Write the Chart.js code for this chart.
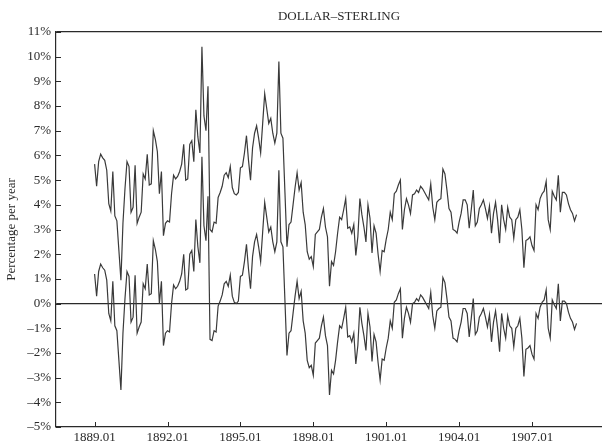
<!DOCTYPE html>
<html>
<head>
<meta charset="utf-8">
<script src="https://cdn.jsdelivr.net/npm/chart.js@4.4.0/dist/chart.umd.min.js"></script>
<style>
  html, body { margin: 0; padding: 0; background: #fff; }
</style>
</head>
<body>
<canvas id="chart" width="602" height="447"></canvas>
<script>
// monthly series, starting 1889.01
var upper = [
  5.65, 4.75, 5.75, 6.05, 5.9, 5.8, 5.4, 4.05, 3.75, 5.35,
  3.55, 3.35, 2.15, 0.95, 3.25, 4.65, 5.75, 5.55, 3.7, 3.9,
  5.6, 3.25, 3.5, 3.7, 5.25, 5.05, 6.05, 4.8, 4.85, 7.0,
  6.65, 6.15, 4.45, 5.35, 2.75, 3.25, 3.35, 3.3, 4.45, 5.2,
  5.05, 5.15, 5.35, 5.65, 6.45, 5.0, 5.05, 6.45, 6.6, 5.75,
  7.85, 6.75, 6.1, 10.4, 7.6, 7.0, 8.8, 3.0, 2.9, 3.3,
  3.25, 4.3, 4.5, 4.75, 5.2, 5.3, 5.1, 5.55, 4.7, 4.45,
  4.4, 4.5, 5.5, 5.55, 6.1, 6.8, 5.8, 5.0, 6.3, 6.9,
  7.2, 6.7, 6.1, 7.3, 8.5, 7.9, 7.3, 7.5, 6.9, 6.5,
  6.9, 9.8, 6.9, 6.7, 4.5, 2.3, 3.2, 3.3, 4.0, 4.7,
  5.3, 4.6, 4.9, 3.7, 3.2, 2.1, 1.8, 1.9, 1.5, 2.8,
  2.9, 3.0, 3.5, 3.85, 3.1, 2.7, 0.7, 1.7, 1.55, 2.1,
  2.85, 3.5, 3.4, 3.8, 4.25, 3.05, 3.1, 2.85, 3.2, 1.95,
  2.7, 4.25, 3.6, 3.1, 2.5, 4.0, 3.45, 2.05, 3.15, 2.85,
  2.0, 1.3, 2.15, 2.1, 2.6, 3.0, 3.7, 3.4, 4.45, 4.55,
  4.8, 5.0, 3.0, 3.8, 4.25, 4.0, 3.65, 4.4, 4.45, 4.6,
  4.5, 4.75, 4.65, 4.5, 4.35, 4.2, 4.85, 3.9, 3.4, 4.1,
  4.2, 4.25, 5.45, 5.25, 4.6, 3.85, 3.7, 3.0, 2.95, 2.85,
  3.3, 3.65, 4.2, 4.2, 4.0, 3.05, 3.8, 4.6, 3.15, 3.3,
  3.85, 4.0, 4.2, 3.85, 3.45, 3.95, 2.85, 3.65, 4.1, 3.4,
  2.45, 4.0, 3.4, 3.0, 3.9, 3.5, 3.4, 2.65, 3.4, 3.5,
  3.8, 3.0, 1.45, 2.55, 2.6, 2.7, 2.35, 2.15, 4.0, 3.8,
  4.25, 4.45, 4.55, 4.95, 3.4, 3.0, 4.55, 4.35, 4.2, 5.2,
  3.7, 4.5, 4.5, 4.4, 4.05, 3.8, 3.65, 3.35, 3.6
];
var lower = [
  1.2, 0.3, 1.3, 1.6, 1.45, 1.35, 0.95, -0.4, -0.7, 0.9,
  -0.9, -1.1, -2.3, -3.5, -1.2, 0.2, 1.3, 1.1, -0.75, -0.55,
  1.15, -1.2, -0.95, -0.75, 0.8, 0.6, 1.6, 0.35, 0.4, 2.55,
  2.2, 1.7, 0.0, 0.9, -1.7, -1.2, -1.1, -1.15, 0.0, 0.75,
  0.6, 0.7, 0.9, 1.2, 2.0, 0.55, 0.6, 2.0, 2.15, 1.3,
  3.4, 2.3, 1.65, 5.95, 3.15, 2.55, 4.35, -1.45, -1.5, -1.1,
  -1.15, -0.1, 0.1, 0.35, 0.8, 0.9, 0.7, 1.15, 0.3, 0.05,
  0.0, 0.1, 1.1, 1.15, 1.7, 2.4, 1.4, 0.6, 1.9, 2.5,
  2.8, 2.3, 1.7, 2.9, 4.1, 3.5, 2.9, 3.1, 2.5, 2.1,
  2.5, 5.4, 2.5, 2.3, 0.1, -2.1, -1.2, -1.1, -0.4, 0.3,
  0.9, 0.2, 0.5, -0.7, -1.2, -2.3, -2.6, -2.5, -2.9, -1.6,
  -1.5, -1.4, -0.9, -0.55, -1.3, -1.7, -3.7, -2.7, -2.85, -2.3,
  -1.55, -0.9, -1.0, -0.6, -0.15, -1.35, -1.3, -1.55, -1.2, -2.45,
  -1.7, -0.15, -0.8, -1.3, -1.9, -0.4, -0.95, -2.35, -1.25, -1.55,
  -2.4, -3.1, -2.25, -2.3, -1.8, -1.4, -0.7, -1.0, 0.05, 0.15,
  0.4, 0.6, -1.4, -0.6, -0.15, -0.4, -0.75, 0.0, 0.05, 0.2,
  0.1, 0.35, 0.25, 0.1, -0.05, -0.2, 0.45, -0.5, -1.0, -0.3,
  -0.2, -0.15, 1.05, 0.85, 0.2, -0.55, -0.7, -1.4, -1.45, -1.55,
  -1.1, -0.75, -0.2, -0.2, -0.4, -1.35, -0.6, 0.2, -1.25, -1.1,
  -0.55, -0.4, -0.2, -0.55, -0.95, -0.45, -1.55, -0.75, -0.3, -1.0,
  -1.95, -0.4, -1.0, -1.4, -0.5, -0.9, -1.0, -1.75, -1.0, -0.9,
  -0.6, -1.4, -2.95, -1.85, -1.8, -1.7, -2.05, -2.25, -0.4, -0.6,
  -0.15, 0.05, 0.15, 0.55, -1.0, -1.4, 0.15, -0.05, -0.2, 0.8,
  -0.7, 0.1, 0.1, 0.0, -0.35, -0.6, -0.75, -1.05, -0.8
];
var tickMonths = [0, 36, 72, 108, 144, 180, 216];
var tickLabels = ['1889.01', '1892.01', '1895.01', '1898.01', '1901.01', '1904.01', '1907.01'];
var titleText = 'DOLLAR\u2013STERLING';
var yTitle = 'Percentage per year';

var serif = '"Liberation Serif", "DejaVu Serif", serif';
var ink = '#2a2a2a';

function toPoints(arr) {
  return arr.map(function(v, i) { return { x: i, y: v }; });
}

// inward tick marks + title
var extras = {
  id: 'extras',
  afterDraw: function(chart) {
    var ctx = chart.ctx, a = chart.chartArea;
    var xs = chart.scales.x, ys = chart.scales.y;
    ctx.save();
    ctx.strokeStyle = ink;
    ctx.lineWidth = 1;
    ctx.beginPath();
    ys.ticks.forEach(function(t) {
      var y = Math.round(ys.getPixelForValue(t.value)) + 0.5;
      ctx.moveTo(a.left, y);
      ctx.lineTo(a.left + 5, y);
    });
    xs.ticks.forEach(function(t) {
      var x = Math.round(xs.getPixelForValue(t.value)) + 0.5;
      ctx.moveTo(x, a.bottom);
      ctx.lineTo(x, a.bottom - 5);
    });
    ctx.stroke();
    ctx.fillStyle = ink;
    ctx.font = '13px ' + serif;
    ctx.textAlign = 'center';
    ctx.textBaseline = 'middle';
    ctx.fillText(titleText, (a.left + a.right) / 2 + 10, 17);
    ctx.restore();
  }
};

var axisLeft = 56;

new Chart(document.getElementById('chart'), {
  type: 'line',
  data: {
    datasets: [
      { data: toPoints(upper), borderColor: '#3a3a3a', borderWidth: 1.2, pointRadius: 0, tension: 0, fill: false },
      { data: toPoints(lower), borderColor: '#3a3a3a', borderWidth: 1.2, pointRadius: 0, tension: 0, fill: false }
    ]
  },
  options: {
    responsive: false,
    animation: false,
    devicePixelRatio: 1,
    layout: { padding: { top: 32, right: 0, bottom: 0, left: 0 } },
    plugins: { legend: { display: false }, tooltip: { enabled: false }, title: { display: false } },
    scales: {
      x: {
        type: 'linear',
        min: -(94.6 - axisLeft) / 2.025,
        max: (602 - 94.6) / 2.025,
        afterBuildTicks: function(scale) {
          scale.ticks = tickMonths.map(function(v) { return { value: v }; });
        },
        afterFit: function(scale) { scale.height = 20; },
        grid: { display: false, drawTicks: false },
        border: { display: true, color: ink, width: 1.2 },
        ticks: {
          color: ink,
          font: { family: serif, size: 13 },
          padding: 3,
          maxRotation: 0,
          autoSkip: false,
          callback: function(v) { return tickLabels[tickMonths.indexOf(v)]; }
        }
      },
      y: {
        min: -5,
        max: 11,
        afterFit: function(scale) { scale.width = axisLeft; },
        grid: {
          drawTicks: false,
          lineWidth: 1.2,
          color: function(c) {
            return (c.tick && (c.tick.value === 0 || c.tick.value === 11)) ? ink : 'rgba(0,0,0,0)';
          }
        },
        border: { display: true, color: ink, width: 1.2 },
        title: {
          display: true,
          text: yTitle,
          color: ink,
          font: { family: serif, size: 13 },
          padding: { top: 4, bottom: 0 }
        },
        ticks: {
          stepSize: 1,
          color: ink,
          font: { family: serif, size: 13 },
          padding: 5,
          callback: function(v) { return (v < 0 ? '\u2013' + Math.abs(v) : v) + '%'; }
        }
      }
    }
  },
  plugins: [extras]
});
</script>
</body>
</html>
